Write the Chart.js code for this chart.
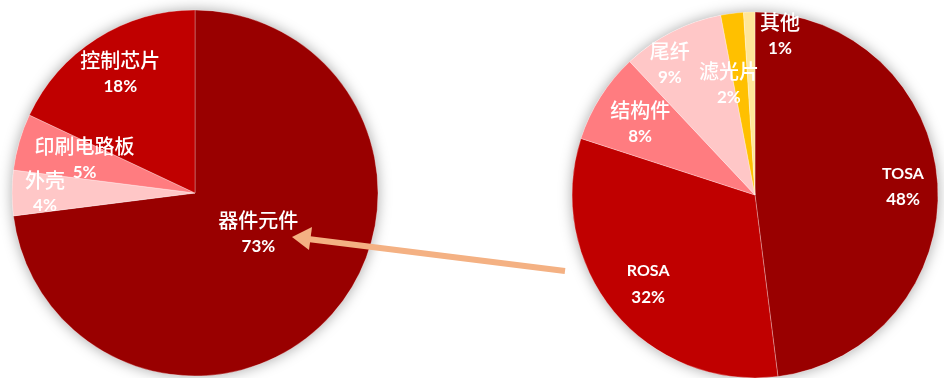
<!DOCTYPE html>
<html lang="zh">
<head>
    <meta charset="UTF-8">
    <title>光模块成本结构</title>
    <script src="https://cdn.jsdelivr.net/npm/chart.js"></script>
    <style>
        html, body {
            margin: 0;
            padding: 0;
            background: #fff;
            width: 944px;
            height: 378px;
            overflow: hidden;
        }
        .pie {
            position: absolute;
            width: 416px;
            height: 416px;
        }
        #leftBox { left: -13px; top: -15px; }
        #rightBox { left: 547px; top: -13px; }
        #arrow {
            position: absolute;
            left: 0;
            top: 0;
        }
    </style>
</head>
<body>
    <div class="pie" id="leftBox"><canvas id="leftChart"></canvas></div>
    <div class="pie" id="rightBox"><canvas id="rightChart"></canvas></div>
    <svg id="arrow" width="944" height="378">
        <line x1="565" y1="271" x2="308" y2="239" stroke="#F4B183" stroke-width="6" />
        <polygon points="292,237 312,227 309,250" fill="#F4B183" />
    </svg>

    <script>
        // 光模块成本
        const moduleLabels = ['器件元件', '外壳', '印刷电路板', '控制芯片'];
        const moduleValues = [73, 4, 5, 18];
        const moduleColors = ['#990000', '#FFC7C7', '#FF7C80', '#C00000'];

        // 器件元件成本
        const deviceLabels = ['TOSA', 'ROSA', '结构件', '尾纤', '滤光片', '其他'];
        const deviceValues = [48, 32, 8, 9, 2, 1];
        const deviceColors = ['#990000', '#C00000', '#FF7C80', '#FFC7C7', '#FFC000', '#FFE699'];

        // label placement: [fraction of radius, angle shift in degrees]
        const modulePlace = [[0.41, -9], [0.82, 0], [0.63, 0.5], [0.77, 0.4]];
        const devicePlace = [[0.81, 0.5], [0.76, -0.2], [0.74, -0.4], [0.85, -6.2], [0.62, -6.1], [0.88, 10.7]];

        const shadowPlugin = {
            id: 'pieShadow',
            beforeDatasetsDraw(chart) {
                const arc = chart.getDatasetMeta(0).data[0];
                const ctx = chart.ctx;
                ctx.save();
                ctx.shadowColor = 'rgba(0,0,0,0.35)';
                ctx.shadowBlur = 14;
                ctx.fillStyle = '#fff';
                ctx.beginPath();
                ctx.arc(arc.x, arc.y, arc.outerRadius, 0, Math.PI * 2);
                ctx.fill();
                ctx.restore();
            }
        };

        const labelPlugin = {
            id: 'sliceLabels',
            afterDatasetsDraw(chart, args, opts) {
                const ctx = chart.ctx;
                const meta = chart.getDatasetMeta(0);
                const names = chart.data.labels;
                const values = chart.data.datasets[0].data;
                ctx.save();
                ctx.fillStyle = '#fff';
                ctx.textAlign = 'center';
                ctx.textBaseline = 'middle';
                meta.data.forEach((arc, i) => {
                    const [frac, shift] = opts.place[i];
                    const a = (arc.startAngle + arc.endAngle) / 2 + shift * Math.PI / 180;
                    const r = arc.outerRadius * frac;
                    const x = arc.x + Math.cos(a) * r;
                    const y = arc.y + Math.sin(a) * r;
                    const isLatin = /^[A-Za-z]+$/.test(names[i]);
                    ctx.font = isLatin ? 'bold 16px Lato, "Noto Sans", sans-serif'
                                       : '500 20px "Noto Sans CJK SC", sans-serif';
                    ctx.fillText(names[i], x, y - 13);
                    ctx.font = 'bold 17px Lato, "Noto Sans", sans-serif';
                    ctx.fillText(values[i] + '%', x, y + 13);
                });
                ctx.restore();
            }
        };

        function createPie(elementId, labels, values, colors, place) {
            return new Chart(document.getElementById(elementId), {
                type: 'pie',
                data: {
                    labels: labels,
                    datasets: [{
                        data: values,
                        backgroundColor: colors,
                        borderColor: 'rgba(255,255,255,0.35)',
                        borderWidth: 0.8
                    }]
                },
                options: {
                    responsive: true,
                    maintainAspectRatio: false,
                    animation: false,
                    radius: 183,
                    layout: { padding: 0 },
                    plugins: {
                        legend: { display: false },
                        tooltip: { enabled: false },
                        sliceLabels: { place: place }
                    }
                },
                plugins: [shadowPlugin, labelPlugin]
            });
        }

        createPie('leftChart', moduleLabels, moduleValues, moduleColors, modulePlace);
        createPie('rightChart', deviceLabels, deviceValues, deviceColors, devicePlace);
    </script>
</body>
</html>
